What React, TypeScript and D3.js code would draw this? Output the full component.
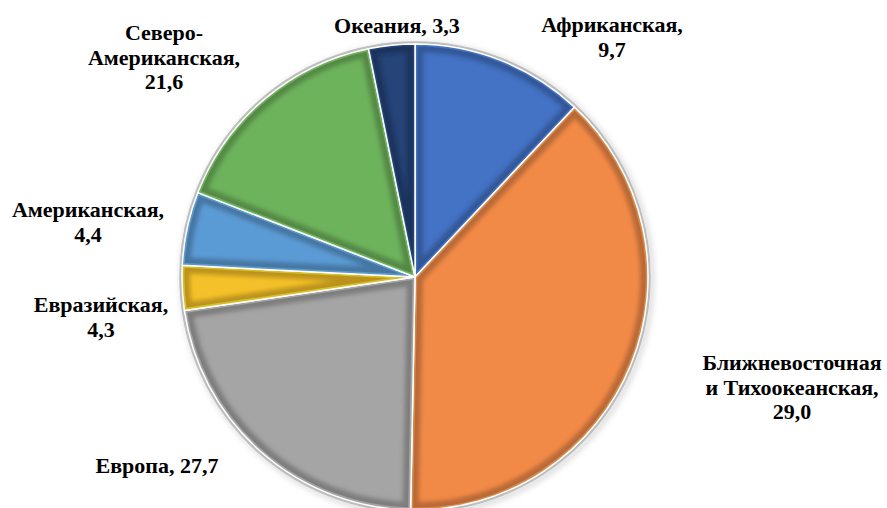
import React, { useEffect, useRef } from 'react';
import * as d3 from 'd3';

// Slice shares as drawn in the picture (labels carry the printed values)
const categories = [
  'Африканская',
  'Ближневосточная и Тихоокеанская',
  'Европа',
  'Евразийская',
  'Американская',
  'Северо-Американская',
  'Океания',
];
const sliceShares = [12.0, 38.3, 22.4, 3.1, 5.1, 15.9, 3.2];
const labelTexts = [
  ['Африканская,', '9,7'],
  ['Ближневосточная', 'и Тихоокеанская,', '29,0'],
  ['Европа, 27,7'],
  ['Евразийская,', '4,3'],
  ['Американская,', '4,4'],
  ['Северо-', 'Американская,', '21,6'],
  ['Океания, 3,3'],
];
const colors = ['#4472C4', '#F28A47', '#A5A5A5', '#F5C12A', '#5B9BD5', '#6DB35C', '#264478'];

// label anchors: centre x, first baseline y
const labelPos = [
  [612, 32],
  [792, 370],
  [157, 473],
  [101, 312],
  [88, 217],
  [164, 40],
  [397, 33],
];

const PieChart = () => {
  const svgRef = useRef<SVGSVGElement>(null);

  useEffect(() => {
    const width = 887;
    const height = 508;
    const cx = 415;
    const cy = 277;
    const radius = 233;

    const svg = d3.select(svgRef.current);
    svg.selectAll('*').remove();
    svg.attr('width', width).attr('height', height);

    const defs = svg.append('defs');
    defs.append('filter')
      .attr('id', 'blur')
      .attr('x', '-20%').attr('y', '-20%').attr('width', '140%').attr('height', '140%')
      .append('feGaussianBlur')
      .attr('stdDeviation', 2);
    const shadow = defs.append('filter')
      .attr('id', 'shadow')
      .attr('x', '-10%').attr('y', '-10%').attr('width', '120%').attr('height', '120%');
    shadow.append('feDropShadow')
      .attr('dx', 2).attr('dy', 2).attr('stdDeviation', 3)
      .attr('flood-color', '#000').attr('flood-opacity', 0.3);

    const data = categories.map((c, i) => ({ name: c, value: sliceShares[i], color: colors[i], i }));

    const pie = d3.pie<any>().sort(null).value(d => d.value);
    const arc = d3.arc<any>().innerRadius(0).outerRadius(radius);
    const arcs = pie(data);

    const g = svg.append('g').attr('transform', `translate(${cx},${cy})`);

    // outer grey rim
    g.append('circle')
      .attr('r', radius + 1.5)
      .attr('fill', 'none')
      .attr('stroke', '#bdbdbd')
      .attr('stroke-width', 2.5)
      .attr('filter', 'url(#shadow)');

    const slices = g.selectAll('.slice')
      .data(arcs)
      .enter()
      .append('g')
      .attr('class', 'slice');

    slices.append('clipPath')
      .attr('id', d => `clip-${d.data.i}`)
      .append('path')
      .attr('d', arc as any);

    slices.append('path')
      .attr('d', arc as any)
      .attr('fill', d => d.data.color);

    // bevel: dark inner edge
    slices.append('g')
      .attr('clip-path', d => `url(#clip-${d.data.i})`)
      .append('path')
      .attr('d', arc as any)
      .attr('fill', 'none')
      .attr('stroke', d => d3.color(d.data.color)!.darker(1.4).toString())
      .attr('stroke-width', 16)
      .attr('stroke-opacity', 0.6)
      .attr('filter', 'url(#blur)');

    // bevel: light highlight just inside
    slices.append('g')
      .attr('clip-path', d => `url(#clip-${d.data.i})`)
      .append('path')
      .attr('d', arc as any)
      .attr('fill', 'none')
      .attr('stroke', d => d3.color(d.data.color)!.brighter(0.8).toString())
      .attr('stroke-width', 5)
      .attr('stroke-opacity', 0.4);

    // white separators
    slices.append('path')
      .attr('d', arc as any)
      .attr('fill', 'none')
      .attr('stroke', '#ffffff')
      .attr('stroke-width', 1.5)
      .attr('stroke-linejoin', 'round');

    // labels
    const labels = svg.append('g')
      .style('font-family', "'Liberation Serif', 'Times New Roman', serif")
      .style('font-weight', 'bold')
      .style('font-size', '22px')
      .attr('fill', '#000')
      .attr('text-anchor', 'middle');

    labelTexts.forEach((lines, i) => {
      const t = labels.append('text')
        .attr('x', labelPos[i][0])
        .attr('y', labelPos[i][1]);
      lines.forEach((line, j) => {
        t.append('tspan')
          .attr('x', labelPos[i][0])
          .attr('dy', j === 0 ? 0 : 24.5)
          .text(line);
      });
    });
  }, []);

  return (
    <svg
      ref={svgRef}
      style={{ position: 'absolute', left: 0, top: 0, display: 'block', background: '#fff' }}
    ></svg>
  );
};

export default function App() {
  return <PieChart />;
}
